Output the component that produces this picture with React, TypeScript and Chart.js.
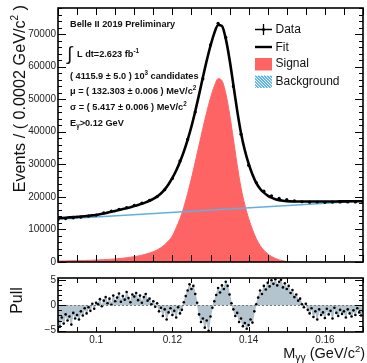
import React, { useEffect, useRef } from "react";
import { Chart, registerables } from "chart.js";
Chart.register(...registerables);

const FONT = "'Liberation Sans', Arial, Helvetica, sans-serif";

// ---------- data ----------
const curveMass = [
  0.090, 0.091, 0.092, 0.093, 0.094, 0.095, 0.096, 0.097, 0.098, 0.099,
  0.100, 0.101, 0.102, 0.103, 0.104, 0.105, 0.106, 0.107, 0.108, 0.109,
  0.110, 0.111, 0.112, 0.113, 0.114, 0.115, 0.116, 0.117, 0.118, 0.119,
  0.120, 0.121, 0.122, 0.123, 0.124, 0.125, 0.126, 0.127, 0.128, 0.129,
  0.130, 0.131, 0.132, 0.133, 0.134, 0.135, 0.136, 0.137, 0.138, 0.139,
  0.140, 0.141, 0.142, 0.143, 0.144, 0.145, 0.146, 0.147, 0.148, 0.149,
  0.150, 0.151, 0.152, 0.153, 0.154, 0.155, 0.156, 0.157, 0.158, 0.159,
  0.160, 0.161, 0.162, 0.163, 0.164, 0.165, 0.166, 0.167, 0.168, 0.169,
  0.170,
];
const signalVals = [
  300, 320, 340, 360, 385, 410, 440, 470, 510, 550,
  600, 650, 710, 780, 860, 950, 1050, 1170, 1310, 1470,
  1650, 1860, 2100, 2400, 2750, 3170, 3700, 4400, 5300, 6500,
  8000, 10500, 13300, 16800, 21000, 25700, 30700, 35900, 41100, 46000,
  50400, 54000, 56300, 55700, 51800, 45500, 37800, 29800, 22800, 17600,
  13400, 10000, 7200, 5100, 3600, 2500, 1700, 1100, 650, 350,
  170, 80, 35, 15, 0, 0, 0, 0, 0, 0,
  0, 0, 0, 0, 0, 0, 0, 0, 0, 0,
  0,
];
const fitVals = [
  13450, 13530, 13610, 13690, 13770, 13860, 13950, 14060, 14180, 14310,
  14460, 14640, 14900, 15160, 15420, 15690, 15970, 16250, 16540, 16840,
  17160, 17500, 17880, 18310, 18800, 19380, 20100, 21050, 22300, 23900,
  25800, 28100, 30800, 33900, 37500, 41600, 46300, 51400, 56700, 61800,
  66400, 70300, 72800, 72500, 68600, 62200, 54400, 46500, 39600, 34300,
  30200, 26900, 24300, 22500, 21300, 20400, 19750, 19300, 19000, 18800,
  18680, 18620, 18590, 18570, 18560, 18560, 18560, 18570, 18570, 18580,
  18580, 18590, 18600, 18600, 18610, 18620, 18630, 18640, 18650, 18660,
  18670,
];
const bkgMass = [0.09, 0.17];
const bkgVals = [13150, 18750];

const dataMass = [
  0.090, 0.092, 0.094, 0.096, 0.098, 0.100, 0.102, 0.104, 0.106, 0.108,
  0.110, 0.112, 0.114, 0.116, 0.118, 0.120, 0.122, 0.124, 0.126, 0.128,
  0.130, 0.132, 0.134, 0.136, 0.138, 0.140, 0.142, 0.144, 0.146, 0.148,
  0.150, 0.152, 0.154, 0.156, 0.158, 0.160, 0.162, 0.164, 0.166, 0.168,
  0.170,
];
const dataVals = [
  13050, 13350, 13560, 13800, 14080, 14420, 15060, 15600, 16180, 16740,
  17380, 18080, 18900, 20050, 22180, 25650, 31050, 37650, 46050, 56250,
  66650, 73300, 68950, 53900, 39250, 29700, 24350, 21750, 20350, 19550,
  19150, 18750, 18500, 18380, 18420, 18330, 18400, 18420, 18450, 18430,
  18500,
];

const pullMass = [
  0.0900, 0.0905, 0.0910, 0.0915, 0.0920, 0.0925, 0.0930, 0.0935, 0.0940, 0.0945,
  0.0950, 0.0955, 0.0960, 0.0965, 0.0970, 0.0975, 0.0980, 0.0985, 0.0990, 0.0995,
  0.1000, 0.1005, 0.1010, 0.1015, 0.1020, 0.1025, 0.1030, 0.1035, 0.1040, 0.1045,
  0.1050, 0.1055, 0.1060, 0.1065, 0.1070, 0.1075, 0.1080, 0.1085, 0.1090, 0.1095,
  0.1100, 0.1105, 0.1110, 0.1115, 0.1120, 0.1125, 0.1130, 0.1135, 0.1140, 0.1145,
  0.1150, 0.1155, 0.1160, 0.1165, 0.1170, 0.1175, 0.1180, 0.1185, 0.1190, 0.1195,
  0.1200, 0.1205, 0.1210, 0.1215, 0.1220, 0.1225, 0.1230, 0.1235, 0.1240, 0.1245,
  0.1250, 0.1255, 0.1260, 0.1265, 0.1270, 0.1275, 0.1280, 0.1285, 0.1290, 0.1295,
  0.1300, 0.1305, 0.1310, 0.1315, 0.1320, 0.1325, 0.1330, 0.1335, 0.1340, 0.1345,
  0.1350, 0.1355, 0.1360, 0.1365, 0.1370, 0.1375, 0.1380, 0.1385, 0.1390, 0.1395,
  0.1400, 0.1405, 0.1410, 0.1415, 0.1420, 0.1425, 0.1430, 0.1435, 0.1440, 0.1445,
  0.1450, 0.1455, 0.1460, 0.1465, 0.1470, 0.1475, 0.1480, 0.1485, 0.1490, 0.1495,
  0.1500, 0.1505, 0.1510, 0.1515, 0.1520, 0.1525, 0.1530, 0.1535, 0.1540, 0.1545,
  0.1550, 0.1555, 0.1560, 0.1565, 0.1570, 0.1575, 0.1580, 0.1585, 0.1590, 0.1595,
  0.1600, 0.1605, 0.1610, 0.1615, 0.1620, 0.1625, 0.1630, 0.1635, 0.1640, 0.1645,
  0.1650, 0.1655, 0.1660, 0.1665, 0.1670, 0.1675, 0.1680, 0.1685, 0.1690, 0.1695,
  0.1700,
];
const pullVals = [
  -3.1, -4.2, -2.4, -3.6, -1.8, -3.0, -2.2, -3.8, -1.5, -2.6,
  -1.9, -2.8, -1.2, -2.0, -0.6, -1.6, -0.4, -1.1, 0.3, -0.7,
  0.5, 0.2, 1.2, -0.2, 0.9, 1.6, 0.4, 1.3, 0.1, 1.9,
  0.8, 1.5, 2.3, 0.7, 1.8, 1.1, 2.6, 1.4, 0.6, 2.1,
  1.7, 2.4, 1.0, 1.9, 0.5, 1.6, 2.2, 0.9, 1.3, 0.2,
  0.8, -0.3, 0.4, -1.2, -0.5, -2.1, -0.8, -2.8, -1.4, -0.6,
  -1.9, -1.1, -2.4, -0.4, -1.6, -0.9, 0.6, 1.8, 2.9, 4.1,
  3.2, 3.8, 2.2, 0.5, -1.8, -3.3, -2.6, -4.4, -3.0, -5.0,
  -2.2, -0.5, 0.8, 2.0, 3.4, 2.5, 3.9, 3.2, 4.6, 3.8,
  2.1, 0.4, -0.8, -2.1, -1.5, -3.3, -2.6, -4.1, -3.5, -4.6,
  -3.9, -2.8, -3.4, -1.2, 0.2, 1.5, 2.9, 2.2, 3.8, 3.1,
  4.4, 3.7, 4.9, 4.2, 5.1, 3.9, 4.6, 5.0, 3.5, 4.3,
  3.2, 3.8, 2.4, 3.0, 1.6, 2.1, 0.9, 1.3, 0.2, -0.4,
  0.3, -0.9, -1.6, -0.6, -2.3, -1.2, -2.8, -0.8, -1.9, -1.4,
  -2.5, -0.7, -1.8, -1.1, -2.6, -0.5, -1.5, -2.1, -0.9, -1.7,
  -1.2, -2.4, -0.8, -1.6, -2.2, -1.0, -1.9, -0.6, -1.4, -2.0,
  -1.1,
];

const xTickLabels = [0.1, 0.12, 0.14, 0.16];
const yTickLabels = [0, 10000, 20000, 30000, 40000, 50000, 60000, 70000];
const pullTickLabels = [-5, 0, 5];

// ---------- helpers ----------
type Seg = [string, number?, number?];
function richWidth(ctx: CanvasRenderingContext2D, segs: Seg[], base: number, weight: string) {
  let w = 0;
  for (const [t, sz] of segs) {
    ctx.font = `${weight} ${sz ?? base}px ${FONT}`;
    w += ctx.measureText(t).width;
  }
  return w;
}
function rich(ctx: CanvasRenderingContext2D, x: number, y: number, segs: Seg[], base: number, weight: string) {
  let cx = x;
  ctx.textAlign = "left";
  ctx.textBaseline = "alphabetic";
  for (const [t, sz, dy] of segs) {
    ctx.font = `${weight} ${sz ?? base}px ${FONT}`;
    ctx.fillText(t, cx, y + (dy ?? 0));
    cx += ctx.measureText(t).width;
  }
}

function drawFrame(chart: any, o: { xStep: number; xLen: number; yStep: number; yMajor: number; yMajLen: number; yMinLen: number }) {
  const { ctx, chartArea: a, scales } = chart;
  const xs = scales.x, ys = scales.y;
  ctx.save();
  ctx.strokeStyle = "#000";
  ctx.lineWidth = 1;
  ctx.beginPath();
  const xMin = xs.min, xMax = xs.max;
  for (let k = 0; ; k++) {
    const v = xMin + k * o.xStep;
    if (v > xMax + 1e-9) break;
    const px = Math.round(xs.getPixelForValue(v)) + 0.5;
    ctx.moveTo(px, a.bottom);
    ctx.lineTo(px, a.bottom - o.xLen);
    ctx.moveTo(px, a.top);
    ctx.lineTo(px, a.top + o.xLen);
  }
  const start = Math.ceil(ys.min / o.yStep - 1e-9);
  for (let k = start; k * o.yStep <= ys.max + 1e-9; k++) {
    const v = k * o.yStep;
    const isMaj = Math.abs(v / o.yMajor - Math.round(v / o.yMajor)) < 1e-6;
    const len = isMaj ? o.yMajLen : o.yMinLen;
    const py = Math.round(ys.getPixelForValue(v)) + 0.5;
    ctx.moveTo(a.left, py);
    ctx.lineTo(a.left + len, py);
    ctx.moveTo(a.right, py);
    ctx.lineTo(a.right - len, py);
  }
  ctx.stroke();
  ctx.lineWidth = 1.6;
  ctx.strokeRect(a.left, a.top, a.right - a.left, a.bottom - a.top);
  ctx.restore();
}

const topPlugin = {
  id: "topDecor",
  afterDraw(chart: any) {
    drawFrame(chart, { xStep: 0.005, xLen: 7, yStep: 2000, yMajor: 10000, yMajLen: 8, yMinLen: 4 });
    const ctx: CanvasRenderingContext2D = chart.ctx;
    ctx.save();
    ctx.fillStyle = "#111";
    const b = 9.2;
    const sup = 6.3;
    rich(ctx, 70, 27, [["Belle II 2019 Preliminary"]], b, "bold");
    ctx.font = `normal 19px ${FONT}`;
    ctx.fillText("\u222B", 67, 60);
    rich(ctx, 77, 56.5, [["L dt=2.623 fb"], ["-1", sup, -4]], b, "bold");
    rich(ctx, 70, 78.5, [["( 4115.9 \u00B1 5.0 ) 10"], ["3", sup, -4], [" candidates"]], b, "bold");
    rich(ctx, 70, 93.5, [["\u03BC = ( 132.303 \u00B1 0.006 ) MeV/c"], ["2", sup, -4]], b, "bold");
    rich(ctx, 70, 110, [["\u03C3 = ( 5.417 \u00B1 0.006 ) MeV/c"], ["2", sup, -4]], b, "bold");
    rich(ctx, 70, 126, [["E"], ["\u03B3", sup, 2], [">0.12 GeV"]], b, "bold");

    // legend
    ctx.strokeStyle = "#000";
    ctx.lineWidth = 1.3;
    ctx.beginPath();
    ctx.moveTo(255, 29.5); ctx.lineTo(272, 29.5);
    ctx.moveTo(263.5, 24); ctx.lineTo(263.5, 35);
    ctx.stroke();
    ctx.beginPath();
    ctx.arc(263.5, 29.5, 1.5, 0, Math.PI * 2);
    ctx.fillStyle = "#000";
    ctx.fill();
    ctx.lineWidth = 2.4;
    ctx.beginPath();
    ctx.moveTo(255, 47); ctx.lineTo(272, 47);
    ctx.stroke();
    ctx.fillStyle = "#ff6464";
    ctx.fillRect(255, 58, 17, 12.5);
    ctx.save();
    ctx.beginPath();
    ctx.rect(255, 75.5, 17, 12.5);
    ctx.clip();
    ctx.strokeStyle = "rgb(60,160,220)";
    ctx.lineWidth = 1.2;
    ctx.beginPath();
    for (let x = 240; x < 280; x += 3) {
      ctx.moveTo(x, 75.5);
      ctx.lineTo(x + 12.5, 88);
    }
    ctx.stroke();
    ctx.restore();
    ctx.fillStyle = "#111";
    ctx.font = `normal 12px ${FONT}`;
    ctx.textAlign = "left";
    ctx.textBaseline = "middle";
    ctx.fillText("Data", 275.5, 29.5);
    ctx.fillText("Fit", 275.5, 47.5);
    ctx.fillText("Signal", 275.5, 64);
    ctx.fillText("Background", 275.5, 82);

    // y title
    ctx.save();
    ctx.translate(24.5, 5);
    ctx.rotate(-Math.PI / 2);
    const segs: Seg[] = [["Events / ( 0.0002 GeV/c"], ["2", 10, -7], [" )"]];
    const w = richWidth(ctx, segs, 16.2, "normal");
    ctx.fillStyle = "#111";
    rich(ctx, -w, 0, segs, 16.2, "normal");
    ctx.restore();
    ctx.restore();
  },
};

const pullPlugin = {
  id: "pullDecor",
  afterDatasetsDraw(chart: any) {
    const { ctx, chartArea: a, scales } = chart;
    const py = Math.round(scales.y.getPixelForValue(0)) + 0.5;
    ctx.save();
    ctx.strokeStyle = "#777";
    ctx.lineWidth = 1;
    ctx.setLineDash([2, 2]);
    ctx.beginPath();
    ctx.moveTo(a.left, py);
    ctx.lineTo(a.right, py);
    ctx.stroke();
    ctx.restore();
  },
  afterDraw(chart: any) {
    drawFrame(chart, { xStep: 0.005, xLen: 5, yStep: 1, yMajor: 5, yMajLen: 8, yMinLen: 4 });
    const ctx: CanvasRenderingContext2D = chart.ctx;
    ctx.save();
    ctx.fillStyle = "#111";
    ctx.save();
    ctx.translate(22, 30.5);
    ctx.rotate(-Math.PI / 2);
    ctx.font = `normal 16px ${FONT}`;
    ctx.textAlign = "center";
    ctx.textBaseline = "alphabetic";
    ctx.fillText("Pull", 0, 0);
    ctx.restore();
    const segs: Seg[] = [["M"], ["\u03B3\u03B3", 10.5, 3], [" (GeV/c"], ["2", 9.5, -6], [")"]];
    const w = richWidth(ctx, segs, 14.5, "normal");
    rich(ctx, 365 - w, 87.5, segs, 14.5, "normal");
    ctx.restore();
  },
};

export default function App() {
  const topRef = useRef<HTMLCanvasElement>(null);
  const pullRef = useRef<HTMLCanvasElement>(null);

  useEffect(() => {
    const pts = (xs: number[], ys: number[]) => xs.map((x, i) => ({ x, y: ys[i] }));
    const tickFont = { family: FONT, size: 10 };

    const c1 = new Chart(topRef.current!, {
      type: "line",
      data: {
        datasets: [
          {
            label: "Data",
            data: pts(dataMass, dataVals),
            showLine: false,
            pointRadius: 1.6,
            pointBackgroundColor: "#000",
            pointBorderWidth: 0,
            order: 0,
          } as any,
          {
            label: "Fit",
            data: pts(curveMass, fitVals),
            borderColor: "#000",
            borderWidth: 2.6,
            pointRadius: 0,
            cubicInterpolationMode: "monotone",
            fill: false,
            order: 1,
          },
          {
            label: "Background",
            data: pts(bkgMass, bkgVals),
            borderColor: "rgb(95,175,225)",
            borderWidth: 1.5,
            pointRadius: 0,
            fill: false,
            order: 2,
          },
          {
            label: "Signal",
            data: pts(curveMass, signalVals),
            borderColor: "#ff6464",
            backgroundColor: "#ff6464",
            borderWidth: 1,
            pointRadius: 0,
            cubicInterpolationMode: "monotone",
            fill: "origin",
            order: 3,
          },
        ],
      },
      options: {
        responsive: false,
        animation: false,
        devicePixelRatio: 1,
        layout: { padding: { top: 6, right: 2, bottom: 4, left: 0 } },
        plugins: { legend: { display: false }, tooltip: { enabled: false } },
        scales: {
          x: { type: "linear", min: 0.09, max: 0.17, display: false },
          y: {
            min: 0,
            max: 78000,
            afterFit: (s: any) => { s.width = 58; },
            afterBuildTicks: (s: any) => { s.ticks = yTickLabels.map((v) => ({ value: v })); },
            grid: { display: false, drawTicks: false, tickLength: 0 },
            border: { display: false },
            ticks: { padding: 2, color: "#222", font: tickFont, callback: (v: any) => String(v) },
          },
        },
      },
      plugins: [topPlugin],
    });

    const c2 = new Chart(pullRef.current!, {
      type: "line",
      data: {
        datasets: [
          {
            label: "Pull",
            data: pts(pullMass, pullVals),
            borderColor: "#a3b6c2",
            borderWidth: 0.8,
            backgroundColor: "#b3c4ce",
            fill: "origin",
            pointRadius: 1.3,
            pointBackgroundColor: "#000",
            pointBorderWidth: 0,
          },
        ],
      },
      options: {
        responsive: false,
        animation: false,
        devicePixelRatio: 1,
        layout: { padding: { top: 3, right: 2, bottom: 0, left: 0 } },
        plugins: { legend: { display: false }, tooltip: { enabled: false } },
        scales: {
          x: {
            type: "linear",
            min: 0.09,
            max: 0.17,
            afterFit: (s: any) => { s.height = 31; },
            afterBuildTicks: (s: any) => { s.ticks = xTickLabels.map((v) => ({ value: v })); },
            grid: { display: false, drawTicks: false, tickLength: 0 },
            border: { display: false },
            ticks: { padding: 2, color: "#222", font: tickFont, maxRotation: 0, autoSkip: false, callback: (v: any) => String(Math.round(v * 100) / 100) },
          },
          y: {
            min: -5.25,
            max: 5.35,
            afterFit: (s: any) => { s.width = 58; },
            afterBuildTicks: (s: any) => { s.ticks = pullTickLabels.map((v) => ({ value: v })); },
            grid: { display: false, drawTicks: false, tickLength: 0 },
            border: { display: false },
            ticks: { padding: 2, color: "#222", font: tickFont, callback: (v: any) => (v < 0 ? "\u2212" + String(-v) : String(v)) },
          },
        },
      },
      plugins: [pullPlugin],
    });

    return () => {
      c1.destroy();
      c2.destroy();
    };
  }, []);

  return (
    <div style={{ position: "absolute", left: 0, top: 0, width: 367, height: 363, background: "#fff" }}>
      <canvas ref={topRef} width={367} height={270} style={{ position: "absolute", left: 0, top: 0, width: 367, height: 270 }} />
      <canvas ref={pullRef} width={367} height={93} style={{ position: "absolute", left: 0, top: 270, width: 367, height: 93 }} />
    </div>
  );
}
